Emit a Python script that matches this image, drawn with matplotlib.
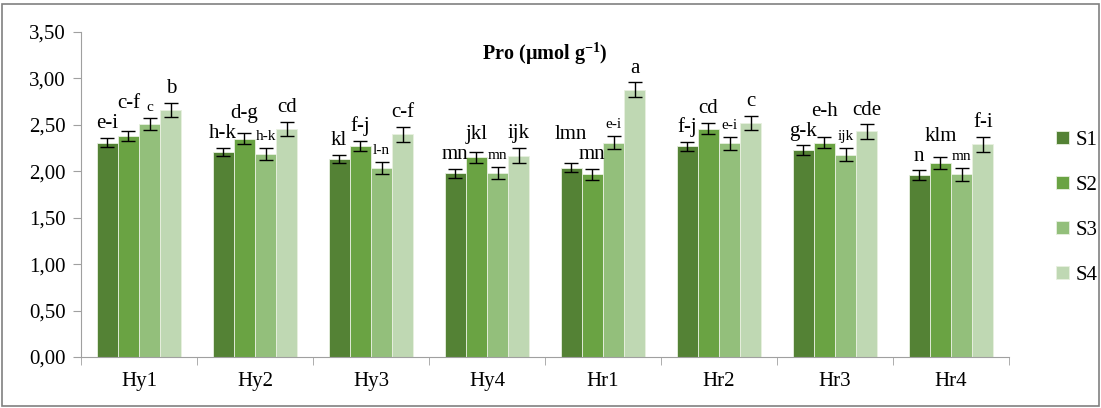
import numpy as np
import matplotlib
matplotlib.use('Agg')
import matplotlib.pyplot as plt
from matplotlib.patches import Rectangle
from matplotlib.ticker import FuncFormatter, MultipleLocator

# genotypes and treatment series
groups = ['Hy1', 'Hy2', 'Hy3', 'Hy4', 'Hr1', 'Hr2', 'Hr3', 'Hr4']
series = ['S1', 'S2', 'S3', 'S4']

s1 = [2.31, 2.21, 2.13, 1.98, 2.04, 2.27, 2.23, 1.96]
s2 = [2.38, 2.35, 2.27, 2.15, 1.97, 2.46, 2.31, 2.09]
s3 = [2.51, 2.19, 2.04, 1.98, 2.31, 2.30, 2.18, 1.97]
s4 = [2.66, 2.46, 2.40, 2.17, 2.88, 2.52, 2.43, 2.29]

e1 = [0.05, 0.045, 0.045, 0.05, 0.05, 0.05, 0.05, 0.052]
e2 = [0.05, 0.06, 0.055, 0.06, 0.06, 0.06, 0.057, 0.06]
e3 = [0.06, 0.065, 0.065, 0.065, 0.07, 0.07, 0.07, 0.07]
e4 = [0.075, 0.075, 0.08, 0.08, 0.077, 0.077, 0.077, 0.079]

# significance letters
l1 = ['e-i', 'h-k', 'kl', 'mn', 'lmn', 'f-j', 'g-k', 'n']
l2 = ['c-f', 'd-g', 'f-j', 'jkl', 'mn', 'cd', 'e-h', 'klm']
l3 = ['c', 'h-k', 'l-n', 'mn', 'e-i', 'e-i', 'ijk', 'mn']
l4 = ['b', 'cd', 'c-f', 'ijk', 'a', 'c', 'cde', 'f-i']

colors = ['#548235', '#6aa343', '#93bf7b', '#bfd8b3']

plt.rcParams['font.family'] = ['Liberation Serif', 'DejaVu Serif']
plt.rcParams['mathtext.fontset'] = 'custom'
plt.rcParams['mathtext.rm'] = 'Liberation Serif'
plt.rcParams['mathtext.bf'] = 'Liberation Serif:bold'

fig = plt.figure(figsize=(11.01, 4.08), dpi=100)
ax = fig.add_axes([81 / 1101, 1 - 357 / 408, 928 / 1101, 325 / 408])

x = np.arange(len(groups))
w = 0.183
vals = [s1, s2, s3, s4]
errs = [e1, e2, e3, e4]
labs = [l1, l2, l3, l4]

texts = [[None] * 4 for _ in groups]
for i in range(4):
    pos = x + (i - 1.5) * w
    ax.bar(pos, vals[i], width=w, color=colors[i], edgecolor='#e8f0e0',
           linewidth=0.6, label=series[i], zorder=2)
    ax.errorbar(pos, vals[i], yerr=errs[i], fmt='none', ecolor='black',
                elinewidth=1, capsize=5, capthick=1, zorder=3)
    for g, (p, v, e, t) in enumerate(zip(pos, vals[i], errs[i], labs[i])):
        small = (i == 2)
        texts[g][i] = ax.text(p, v + e + 0.05, t, ha='center', va='bottom',
                              fontsize=11 if small else 15)

ax.set_xlim(-0.5, len(groups) - 0.5)
ax.set_ylim(0, 3.5)
ax.yaxis.set_major_locator(MultipleLocator(0.5))
ax.yaxis.set_major_formatter(FuncFormatter(lambda v, p: f'{v:.2f}'.replace('.', ',')))
ax.set_xticks(x)
ax.set_xticklabels(groups)
ax.set_xticks(np.arange(-0.5, len(groups), 1.0), minor=True)
ax.tick_params(axis='x', which='major', length=0, pad=11, labelsize=15)
ax.tick_params(axis='x', which='minor', length=6, color='#a0a0a0')
ax.tick_params(axis='y', length=6, color='#a0a0a0', labelsize=15, pad=5)

for s in ['top', 'right']:
    ax.spines[s].set_visible(False)
for s in ['left', 'bottom']:
    ax.spines[s].set_color('#a0a0a0')

ax.text(0.5, 0.975, 'Pro (µmol g$^{\\mathbf{-1}}$)', transform=ax.transAxes,
        ha='center', va='top', fontsize=14.5, fontweight='bold')

leg = fig.legend(loc='center left', bbox_to_anchor=(1046 / 1101, 1 - 208 / 408),
                 frameon=False, fontsize=15, handlelength=0.6, handleheight=0.6,
                 handletextpad=0.3, labelspacing=1.25, borderpad=0)

# lift a letter above its neighbour when the two collide (taller bar goes up)
fig.canvas.draw()
r = fig.canvas.get_renderer()
px_to_data = 3.5 / 325
for g in range(len(groups)):
    for i in range(1, 4):
        a, b = texts[g][i - 1], texts[g][i]
        ba, bb = a.get_window_extent(r), b.get_window_extent(r)
        if ba.overlaps(bb):
            up, other = (a, bb) if vals[i - 1][g] > vals[i][g] else (b, ba)
            cur = up.get_window_extent(r)
            shift = (other.y1 - cur.y0 + 1) * px_to_data
            px, py = up.get_position()
            up.set_position((px, py + shift))

fig.patches.append(Rectangle((0.002, 0.005), 0.996, 0.985, transform=fig.transFigure,
                             fill=False, edgecolor='#808080', linewidth=1.2))

fig.savefig('out.png', dpi=100)
